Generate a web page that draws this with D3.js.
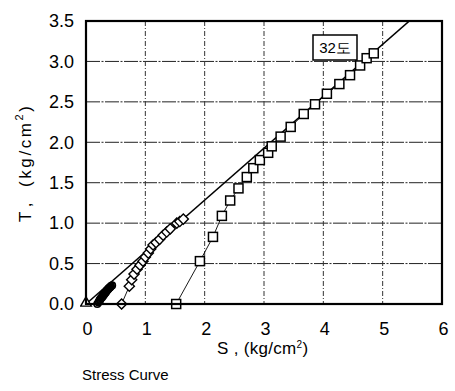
<!DOCTYPE html>
<html>
<head>
<meta charset="utf-8">
<script src="https://cdn.jsdelivr.net/npm/d3@7"></script>
<style>
  html, body { margin: 0; padding: 0; background: #fff; }
  svg { display: block; }
  text { font-family: "Liberation Sans", Arial, Helvetica, sans-serif; fill: #000; }
</style>
</head>
<body>
<svg id="chart" width="455" height="391"></svg>
<script>
// Axis ticks
const xTicks = [0, 1, 2, 3, 4, 5, 6];
const yTicks = [0.0, 0.5, 1.0, 1.5, 2.0, 2.5, 3.0, 3.5];

// Failure envelope (straight line through the origin)
const envelope = [[0, 0], [5.45, 3.5]];

// Test series: [S, T]
const triangles = [[0, 0]];
const circles = [
  [0.19, 0.00], [0.21, 0.02], [0.22, 0.03], [0.23, 0.05], [0.24, 0.05],
  [0.25, 0.07], [0.26, 0.08], [0.27, 0.08], [0.28, 0.10], [0.29, 0.10],
  [0.30, 0.12], [0.31, 0.12], [0.32, 0.14], [0.33, 0.14], [0.34, 0.15],
  [0.35, 0.17], [0.36, 0.17], [0.37, 0.18], [0.38, 0.19], [0.39, 0.20],
  [0.40, 0.20], [0.41, 0.21], [0.42, 0.22], [0.44, 0.23]
];
const diamonds = [
  [0.60, 0.00], [0.73, 0.22], [0.77, 0.30], [0.81, 0.37], [0.86, 0.43],
  [0.91, 0.48], [0.96, 0.53], [1.00, 0.58], [1.05, 0.63], [1.09, 0.68],
  [1.13, 0.73], [1.18, 0.76], [1.24, 0.80], [1.30, 0.85], [1.36, 0.89],
  [1.42, 0.93], [1.53, 1.00], [1.58, 1.02], [1.64, 1.05]
];
const squares = [
  [1.52, 0.00], [1.92, 0.53], [2.14, 0.83], [2.29, 1.09], [2.43, 1.28],
  [2.57, 1.43], [2.71, 1.57], [2.82, 1.68], [2.93, 1.78], [3.07, 1.87],
  [3.13, 1.95], [3.28, 2.07], [3.45, 2.19], [3.67, 2.35], [3.86, 2.47],
  [4.06, 2.60], [4.27, 2.72], [4.45, 2.83], [4.62, 2.95], [4.73, 3.04],
  [4.85, 3.10]
];
const legendLabel = "32도";

const W = 455, H = 391;
const margin = { top: 21, right: 13, bottom: 87, left: 86 };
const iw = W - margin.left - margin.right;
const ih = H - margin.top - margin.bottom;

const svg = d3.select("#chart");
const g = svg.append("g").attr("transform", `translate(${margin.left},${margin.top})`);

const x = d3.scaleLinear().domain([0, 6]).range([0, iw]);
const y = d3.scaleLinear().domain([0, 3.5]).range([ih, 0]);

svg.append("defs").append("clipPath").attr("id", "plot-clip")
  .append("rect").attr("x", -6).attr("y", 0).attr("width", iw + 6).attr("height", ih + 6);

// Grid
g.append("g").selectAll("line.hgrid").data(yTicks.slice(1, -1)).join("line")
  .attr("x1", 0).attr("x2", iw)
  .attr("y1", d => y(d)).attr("y2", d => y(d))
  .attr("stroke", "#222").attr("stroke-width", 1)
  .attr("stroke-dasharray", "14,1.5,2,1.5");
g.append("g").selectAll("line.vgrid").data(xTicks.slice(1, -1)).join("line")
  .attr("y1", 0).attr("y2", ih)
  .attr("x1", d => x(d)).attr("x2", d => x(d))
  .attr("stroke", "#333").attr("stroke-width", 1)
  .attr("stroke-dasharray", "5,2,1,2");

// Tick labels
const yAxis = d3.axisLeft(y).tickValues(yTicks).tickFormat(d3.format(".1f")).tickSize(0).tickPadding(12);
const ya = g.append("g").call(yAxis);
ya.select(".domain").remove();
ya.selectAll("text").attr("font-size", 18).attr("font-family", "Liberation Sans, Arial, sans-serif").attr("fill", "#000");

const xAxis = d3.axisBottom(x).tickValues(xTicks).tickFormat(d3.format("d")).tickSize(0).tickPadding(18);
const xa = g.append("g").attr("transform", `translate(1,${ih})`).call(xAxis);
xa.select(".domain").remove();
xa.selectAll("text").attr("font-size", 18).attr("font-family", "Liberation Sans, Arial, sans-serif").attr("fill", "#000");

const plot = g.append("g").attr("clip-path", "url(#plot-clip)");
const line = d3.line().x(d => x(d[0])).y(d => y(d[1]));

// Envelope
plot.append("path").datum(envelope).attr("d", line)
  .attr("fill", "none").attr("stroke", "#000").attr("stroke-width", 1.6);

// Connecting lines
[circles, diamonds, squares].forEach(s => {
  plot.append("path").datum(s).attr("d", line)
    .attr("fill", "none").attr("stroke", "#000").attr("stroke-width", 0.9);
});

// Markers: small open circles, dense enough to run together
plot.selectAll("circle.c").data(circles).join("circle")
  .attr("cx", d => x(d[0])).attr("cy", d => y(d[1])).attr("r", 3.3)
  .attr("fill", (d, i) => i === 0 ? "#fff" : "none")
  .attr("stroke", "#000").attr("stroke-width", 1.6);

// Diamonds as squares turned 45 degrees
plot.selectAll("rect.d").data(diamonds).join("rect")
  .attr("transform", d => `translate(${x(d[0])},${y(d[1])}) rotate(45)`)
  .attr("x", -3.6).attr("y", -3.6).attr("width", 7.2).attr("height", 7.2)
  .attr("fill", "#fff").attr("stroke", "#000").attr("stroke-width", 1.4);

plot.selectAll("rect.s").data(squares).join("rect")
  .attr("x", d => x(d[0]) - 4.5).attr("y", d => y(d[1]) - 4.5)
  .attr("width", 9).attr("height", 9)
  .attr("fill", "#fff").attr("stroke", "#000").attr("stroke-width", 1.5);

const triPath = d3.symbol().type(d3.symbolTriangle).size(50);
plot.selectAll("path.t").data(triangles).join("path")
  .attr("transform", d => `translate(${x(d[0])},${y(d[1]) - 1})`)
  .attr("d", triPath)
  .attr("fill", "#fff").attr("stroke", "#000").attr("stroke-width", 1.4);

// Frame
g.append("rect").attr("x", 0).attr("y", 0).attr("width", iw).attr("height", ih)
  .attr("fill", "none").attr("stroke", "#000").attr("stroke-width", 2.2);

// Legend box
const lg = g.append("g").attr("transform", `translate(${313 - margin.left},${35 - margin.top})`);
lg.append("rect").attr("width", 44).attr("height", 25)
  .attr("fill", "#fff").attr("stroke", "#000").attr("stroke-width", 1.5);
lg.append("text").attr("x", 22).attr("y", 18).attr("text-anchor", "middle")
  .attr("font-size", 15).attr("font-family", "Liberation Sans, 'Noto Sans CJK KR', sans-serif")
  .text(legendLabel);

// Axis titles
const xt = svg.append("text").attr("x", 217).attr("y", 354).attr("font-size", 17).attr("letter-spacing", 0.3);
xt.append("tspan").text("S , (kg/cm");
xt.append("tspan").attr("font-size", 10).attr("dy", -6).text("2");
xt.append("tspan").attr("dy", 6).text(")");

const yt = svg.append("g").attr("transform", "translate(31,222) rotate(-90)");
yt.append("text").attr("x", 0).attr("y", 0).attr("font-size", 17).text("T ,");
const yt2 = yt.append("text").attr("x", 35).attr("y", 0).attr("font-size", 17).attr("letter-spacing", 2.6);
yt2.append("tspan").text("(kg/cm");
yt2.append("tspan").attr("font-size", 11).attr("dy", -8).text("2");
yt2.append("tspan").attr("dy", 8).text(")");

svg.append("text").attr("x", 82).attr("y", 380).attr("font-size", 15).text("Stress Curve");
</script>
</body>
</html>
